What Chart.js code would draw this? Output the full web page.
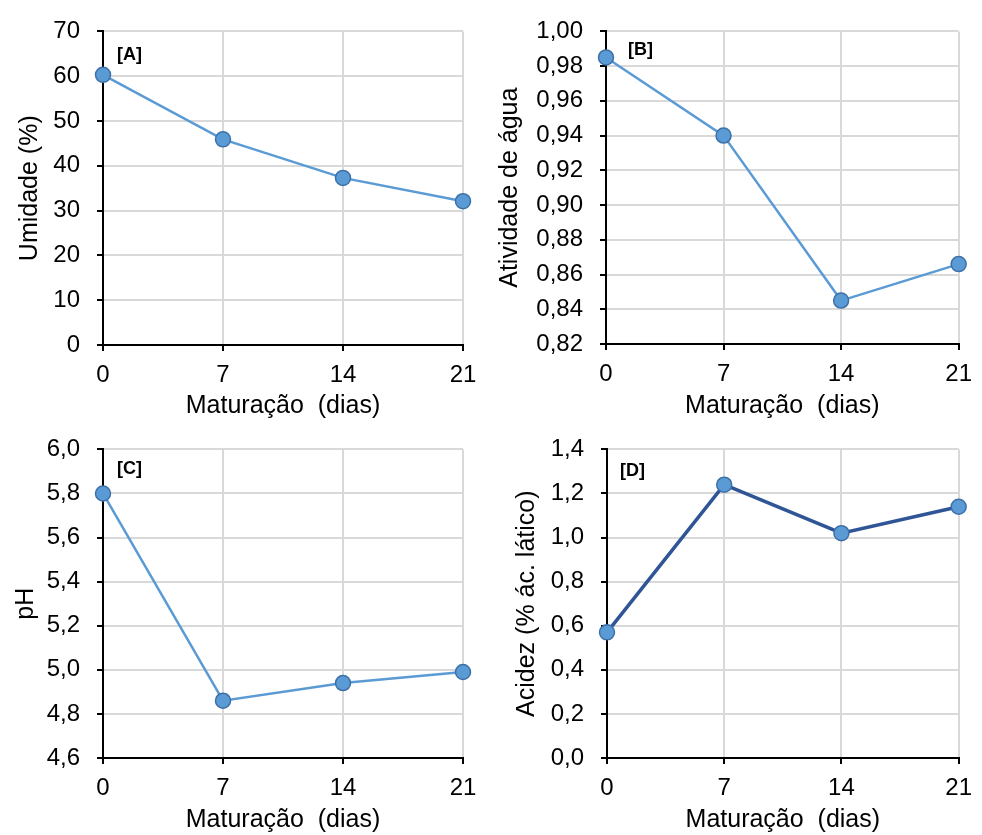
<!DOCTYPE html>
<html>
<head>
<meta charset="utf-8">
<script src="https://cdn.jsdelivr.net/npm/chart.js@4.4.1/dist/chart.umd.min.js"></script>
<style>
  body { margin: 0; background: #fff; }
  #page { position: relative; width: 982px; height: 835px; overflow: hidden; }
  canvas { position: absolute; }
</style>
</head>
<body>
<div id="page">
  <canvas id="chartA" width="491" height="425" style="left:0;top:0"></canvas>
  <canvas id="chartB" width="491" height="425" style="left:491px;top:0"></canvas>
  <canvas id="chartC" width="491" height="417" style="left:0;top:418px"></canvas>
  <canvas id="chartD" width="491" height="417" style="left:491px;top:418px"></canvas>
</div>
<script>
// Maturação (dias)
const days = [0, 7, 14, 21];
const dayTicks = [0, 7, 14, 21];

const umidade = [60.3, 45.9, 37.3, 32.1];
const umidadeTicks = [0, 10, 20, 30, 40, 50, 60, 70];

const atividadeAgua = [0.985, 0.940, 0.845, 0.866];
const atividadeTicks = [0.82, 0.84, 0.86, 0.88, 0.90, 0.92, 0.94, 0.96, 0.98, 1.00];

const ph = [5.80, 4.86, 4.94, 4.99];
const phTicks = [4.6, 4.8, 5.0, 5.2, 5.4, 5.6, 5.8, 6.0];

const acidez = [0.57, 1.24, 1.02, 1.14];
const acidezTicks = [0.0, 0.2, 0.4, 0.6, 0.8, 1.0, 1.2, 1.4];

const FONT = '"Liberation Sans", Arial, sans-serif';

// draws the "[A]" style tag in the upper left of the plot
const panelTag = {
  id: 'panelTag',
  afterDraw(chart, args, opts) {
    const { ctx, chartArea } = chart;
    ctx.save();
    ctx.font = 'bold 18px ' + FONT;
    ctx.fillStyle = '#000';
    ctx.textBaseline = 'middle';
    ctx.fillText(opts.text, chartArea.left + opts.dx, chartArea.top + opts.dy);
    ctx.restore();
  }
};

const fmt = (v, decimals) => v.toFixed(decimals).replace('.', ',');

function makeChart(id, p) {
  const canvas = document.getElementById(id);
  const W = canvas.width, H = canvas.height;
  const padLeft = p.yTitleX - 15;          // 25px font, lineHeight 1.2
  const xTitlePad = H - p.xTitleY - 15;     // 25px font, lineHeight 1.2

  return new Chart(canvas.getContext('2d'), {
    type: 'line',
    data: {
      datasets: [{
        data: days.map((d, i) => ({ x: d, y: p.values[i] })),
        borderColor: p.lineColor,
        borderWidth: p.lineWidth,
        pointRadius: 7.5,
        pointBorderWidth: 1.5,
        pointBackgroundColor: '#5B9BD5',
        pointBorderColor: '#3E70A8',
        tension: 0,
        clip: false,
      }],
    },
    options: {
      responsive: false,
      animation: false,
      layout: {
        padding: { left: padLeft, top: p.plot.top, right: W - p.plot.right, bottom: 0 },
      },
      plugins: {
        legend: { display: false },
        tooltip: { enabled: false },
        panelTag: p.tag,
      },
      scales: {
        x: {
          type: 'linear',
          min: dayTicks[0],
          max: dayTicks[dayTicks.length - 1],
          afterBuildTicks: s => { s.ticks = dayTicks.map(v => ({ value: v })); },
          afterFit: s => { s.height = H - p.plot.bottom; },
          ticks: { color: '#000', padding: 10, font: { family: FONT, size: 24 } },
          grid: { color: '#D9D9D9', lineWidth: 2, tickColor: '#000', tickLength: 6, tickWidth: 2 },
          border: { color: '#000', width: 2 },
          title: {
            display: true,
            text: 'Maturação  (dias)',
            color: '#000',
            padding: { top: 0, bottom: xTitlePad },
            font: { family: FONT, size: 25 },
          },
        },
        y: {
          min: p.ticks[0],
          max: p.ticks[p.ticks.length - 1],
          afterBuildTicks: s => { s.ticks = p.ticks.map(v => ({ value: v })); },
          afterFit: s => { s.width = p.plot.left - padLeft; },
          ticks: {
            color: '#000',
            padding: 17,
            font: { family: FONT, size: 24 },
            callback: v => fmt(v, p.decimals),
          },
          grid: { color: '#D9D9D9', lineWidth: 2, tickColor: '#000', tickLength: 6, tickWidth: 2 },
          border: { color: '#000', width: 2 },
          title: {
            display: true,
            text: p.title,
            color: '#000',
            padding: { top: 0, bottom: 0 },
            font: { family: FONT, size: 25 },
          },
        },
      },
    },
    plugins: [panelTag],
  });
}

makeChart('chartA', {
  values: umidade, ticks: umidadeTicks, decimals: 0, title: 'Umidade (%)',
  lineColor: '#5B9BD5', lineWidth: 2.5,
  plot: { left: 103, top: 23, right: 463, bottom: 345 },
  yTitleX: 30, xTitleY: 406.5,
  tag: { text: '[A]', dx: 14, dy: 24 },
});

makeChart('chartB', {
  values: atividadeAgua, ticks: atividadeTicks, decimals: 2, title: 'Atividade de água',
  lineColor: '#5B9BD5', lineWidth: 2.5,
  plot: { left: 115, top: 22, right: 476, bottom: 344 },
  yTitleX: 19, xTitleY: 406.5,
  tag: { text: '[B]', dx: 22, dy: 19 },
});

makeChart('chartC', {
  values: ph, ticks: phTicks, decimals: 1, title: 'pH',
  lineColor: '#5B9BD5', lineWidth: 2.5,
  plot: { left: 103, top: 17, right: 463, bottom: 340 },
  yTitleX: 26.5, xTitleY: 402,
  tag: { text: '[C]', dx: 14, dy: 20 },
});

makeChart('chartD', {
  values: acidez, ticks: acidezTicks, decimals: 1, title: 'Acidez (% ác. lático)',
  lineColor: '#2F5597', lineWidth: 3.5,
  plot: { left: 116, top: 16, right: 475, bottom: 340 },
  yTitleX: 36, xTitleY: 402,
  tag: { text: '[D]', dx: 13, dy: 22 },
});
</script>
</body>
</html>
